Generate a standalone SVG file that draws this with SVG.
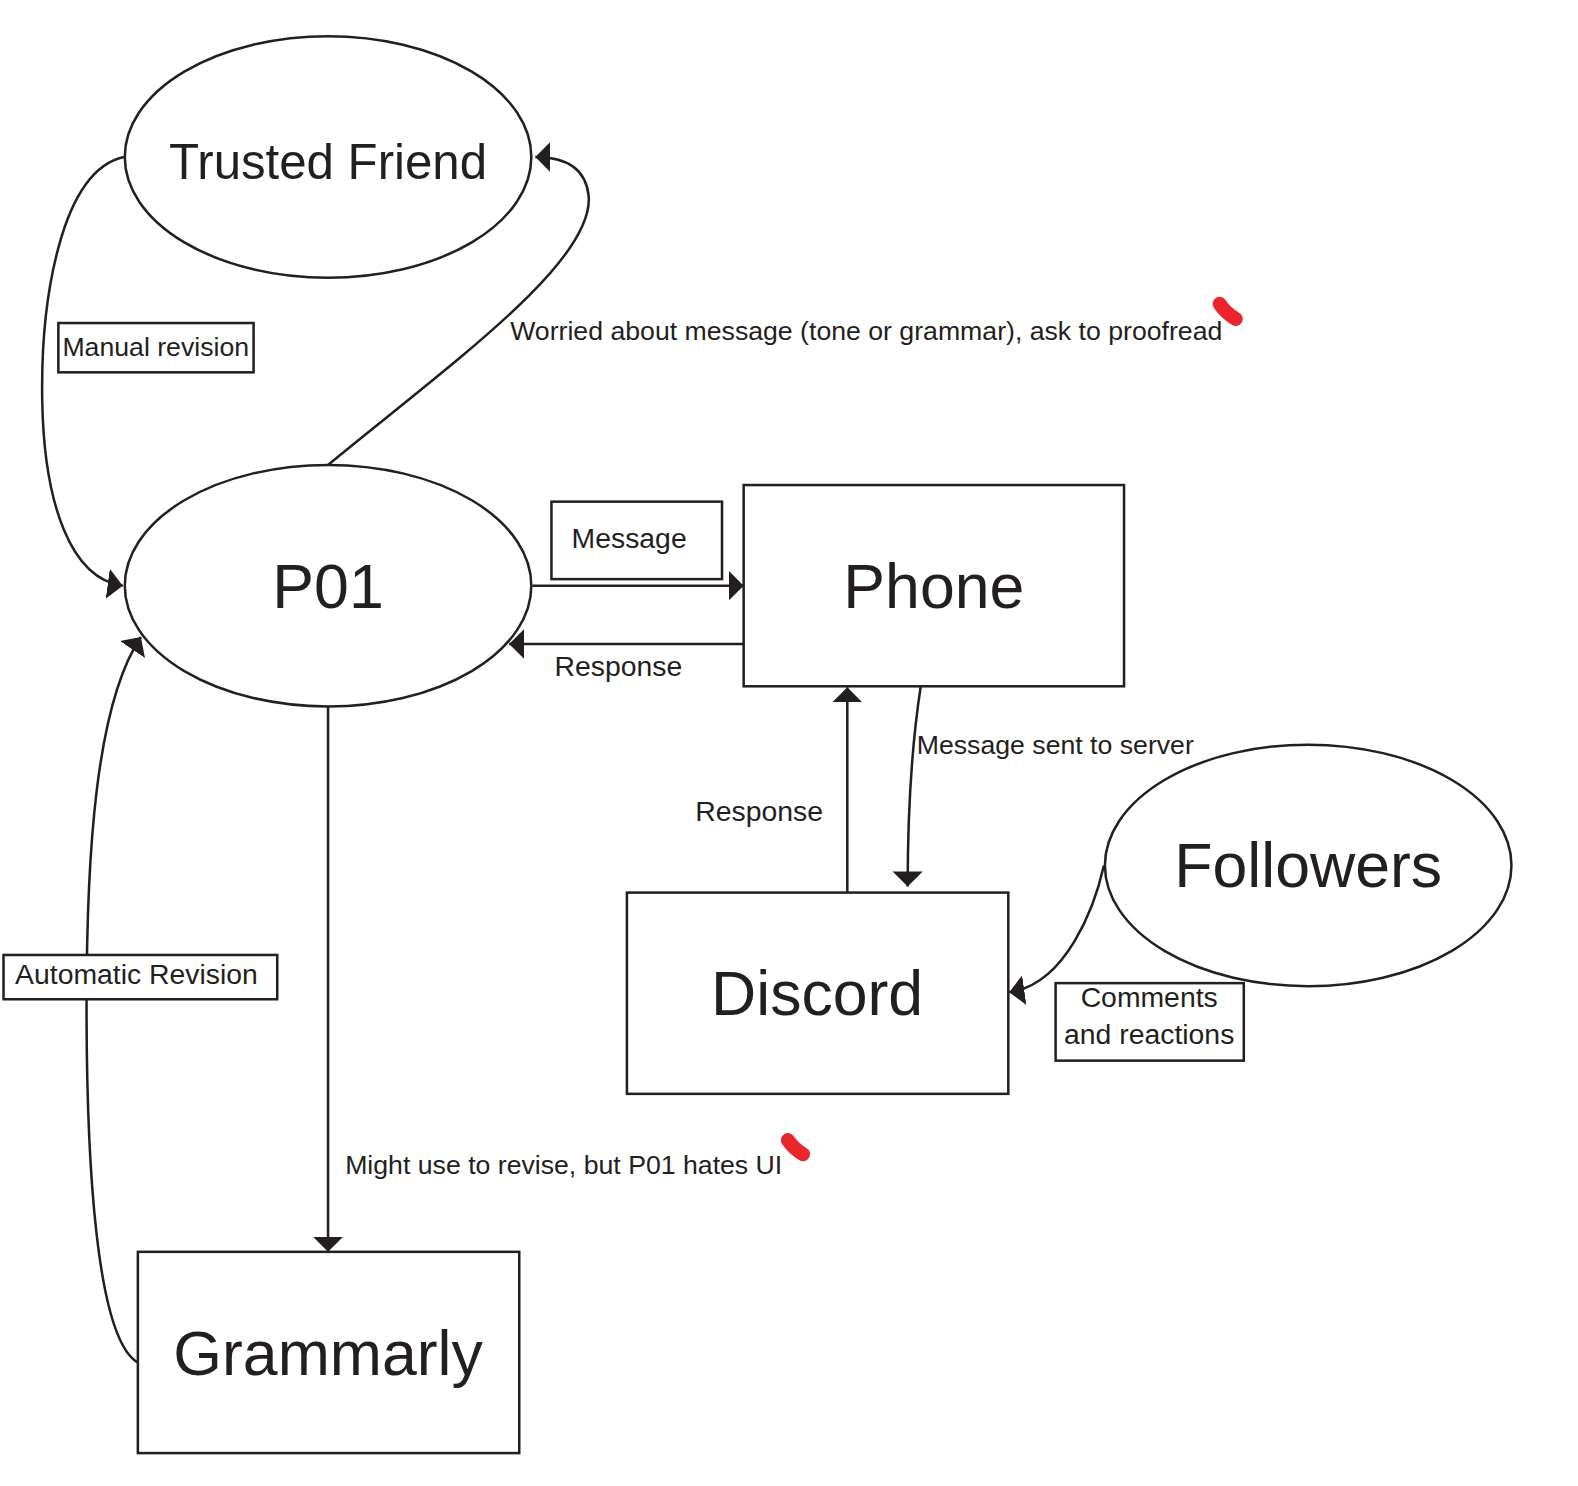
<svg xmlns="http://www.w3.org/2000/svg" width="1578" height="1486" viewBox="0 0 1578 1486">
<style>
.shape{fill:#fff;stroke:#231f20;stroke-width:2.5}
.edge{fill:none;stroke:#231f20;stroke-width:2.5}
.lbox{fill:#fff;stroke:#231f20;stroke-width:2.5}
.big{font-family:"Liberation Sans",Arial,sans-serif;fill:#231f20;text-anchor:middle;font-size:62.2px}
.tf{font-size:48.9px}
.lab{font-family:"Liberation Sans",Arial,sans-serif;fill:#231f20;font-size:26.5px}
.mid{font-size:28.2px}
.mark{fill:none;stroke:#e8262b;stroke-width:14;stroke-linecap:round}
</style>
<defs>
<marker id="ah" markerUnits="userSpaceOnUse" markerWidth="16" markerHeight="32" viewBox="0 0 16 32" refX="15" refY="16" orient="auto">
<path d="M0,1 L15,16 L0,31 Z" fill="#231f20"/>
</marker>
</defs>
<rect width="1578" height="1486" fill="#fff"/>
<g transform="scale(1.0063)">
<g id="connectors">
<path class="edge" d="M326,462 C450,360 590,260 585,195 C582,165 560,156 532,156" marker-end="url(#ah)"/>
<path class="edge" d="M123,156 C60,170 40,300 42,400 C44,500 70,575 122,582" marker-end="url(#ah)"/>
<path class="edge" d="M137,1354 C95,1330 86,1150 86,1000 C86,850 95,700 140,633" marker-end="url(#ah)"/>
<path class="edge" d="M529,582 L739,582" marker-end="url(#ah)"/>
<path class="edge" d="M739,640 L506,640" marker-end="url(#ah)"/>
<path class="edge" d="M326,702 L326,1244" marker-end="url(#ah)"/>
<path class="edge" d="M842,887 L842,683" marker-end="url(#ah)"/>
<path class="edge" d="M915,682 C906,740 902,800 902,881" marker-end="url(#ah)"/>
<path class="edge" d="M1097,860 C1088,900 1060,978 1003,986" marker-end="url(#ah)"/>
</g>
<g id="trusted-friend">
<ellipse class="shape" cx="326" cy="156" rx="202" ry="120"/>
<text class="big tf" x="326" y="178">Trusted Friend</text>
</g>
<g id="p01">
<ellipse class="shape" cx="326" cy="582" rx="202" ry="120"/>
<text class="big" x="326" y="604">P01</text>
</g>
<g id="phone">
<rect class="shape" x="739" y="482" width="378" height="200"/>
<text class="big" x="928" y="604">Phone</text>
</g>
<g id="followers">
<ellipse class="shape" cx="1300" cy="860" rx="202" ry="120"/>
<text class="big" x="1300" y="881">Followers</text>
</g>
<g id="discord">
<rect class="shape" x="623" y="887" width="379" height="200"/>
<text class="big" x="812" y="1009">Discord</text>
</g>
<g id="grammarly">
<rect class="shape" x="137" y="1244" width="379" height="200"/>
<text class="big" x="326" y="1366">Grammarly</text>
</g>
<g id="labels">
<text class="lab" x="507" y="338">Worried about message (tone or grammar), ask to proofread</text>
<rect class="lbox" x="58" y="321" width="194" height="49"/>
<text class="lab" x="62" y="354">Manual revision</text>
<rect class="lbox" x="548" y="498.5" width="169.5" height="77"/>
<text class="lab mid" x="568" y="545">Message</text>
<text class="lab mid" x="551" y="672">Response</text>
<text class="lab mid" x="691" y="816">Response</text>
<text class="lab" x="911" y="749">Message sent to server</text>
<rect class="lbox" x="1049" y="977" width="187" height="77"/>
<text class="lab mid" x="1142" y="1001" text-anchor="middle">Comments</text>
<text class="lab mid" x="1142" y="1037" text-anchor="middle">and reactions</text>
<rect class="lbox" x="3.5" y="949" width="272" height="44"/>
<text class="lab mid" x="15" y="978">Automatic Revision</text>
<text class="lab" x="343" y="1167">Might use to revise, but P01 hates UI</text>
</g>
<path class="mark" d="M1212,302 C1216,308 1223,314 1228,317"/>
<path class="mark" d="M783,1133 C787,1139 793,1144 798,1147"/>
</g>
</svg>
